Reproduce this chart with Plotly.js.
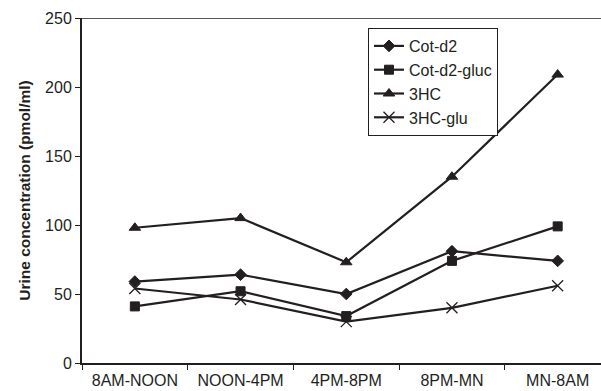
<!DOCTYPE html>
<html>
<head>
<meta charset="utf-8">
<script src="https://cdn.plot.ly/plotly-3.0.1.min.js"></script>
<style>html,body{margin:0;padding:0;background:#fff;}#chart{width:601px;height:391px;}</style>
</head>
<body>
<div id="chart"></div>
<script>
const categories = ["8AM-NOON", "NOON-4PM", "4PM-8PM", "8PM-MN", "MN-8AM"];
const cotD2 = [59, 64, 50, 81, 74];
const cotD2Gluc = [41, 52, 34, 74, 99];
const hc3 = [98, 105, 73, 135, 209];
const hc3Glu = [54, 46, 30, 40, 56];

const ink = "#231f20";
function series(name, y, symbol, size) {
  return {
    type: "scatter", mode: "lines+markers", name: name,
    x: categories, y: y,
    line: {color: ink, width: 2.2},
    marker: {symbol: symbol, size: size, color: ink, line: {color: ink, width: 1}}
  };
}
const traces = [
  series("Cot-d2", cotD2, "diamond", 9),
  series("Cot-d2-gluc", cotD2Gluc, "square", 9),
  series("3HC", hc3, "triangle-up", 10),
  series("3HC-glu", hc3Glu, "x-thin", 11)
];
traces[3].marker.line.width = 1.3;

const layout = {
  width: 601, height: 391,
  margin: {l: 82, r: 0, t: 18, b: 28},
  paper_bgcolor: "#fff", plot_bgcolor: "#fff",
  font: {family: "Liberation Sans, Arial, sans-serif", size: 16, color: ink},
  showlegend: true,
  legend: {
    bgcolor: "#fff", bordercolor: ink, borderwidth: 1,
    font: {size: 16, color: ink},
    tracegroupgap: 0, itemwidth: 30,
    xanchor: "left", yanchor: "top"
  },
  xaxis: {
    type: "category", categoryorder: "array", categoryarray: categories,
    range: [-0.5, 4.41],
    showline: true, linecolor: ink, linewidth: 2,
    ticks: "outside", tickson: "boundaries", ticklen: 5, tickwidth: 1, tickcolor: ink,
    ticklabelstandoff: 2,
    showgrid: false, zeroline: false,
    tickfont: {size: 16, color: ink}
  },
  yaxis: {
    range: [0, 250], tickvals: [0, 50, 100, 150, 200, 250],
    showline: true, linecolor: ink, linewidth: 2,
    ticks: "outside", ticklen: 5, tickwidth: 1, tickcolor: ink,
    showgrid: false, zeroline: false,
    tickfont: {size: 16, color: ink},
    title: {text: "<b>Urine concentration (pmol/ml)</b>", font: {size: 15.5, color: ink}, standoff: 11}
  },
  shapes: [
    {type: "line", xref: "paper", yref: "y", x0: 0, x1: 1, y0: 250, y1: 250, line: {color: ink, width: 1.5}}
  ]
};
const plotW = 601 - 82, plotH = 391 - 18 - 28;
layout.legend.x = (368 - 82) / plotW;
layout.legend.y = 1 - (28 - 18) / plotH;

Plotly.newPlot("chart", traces, layout, {displayModeBar: false, staticPlot: true});
</script>
</body>
</html>
